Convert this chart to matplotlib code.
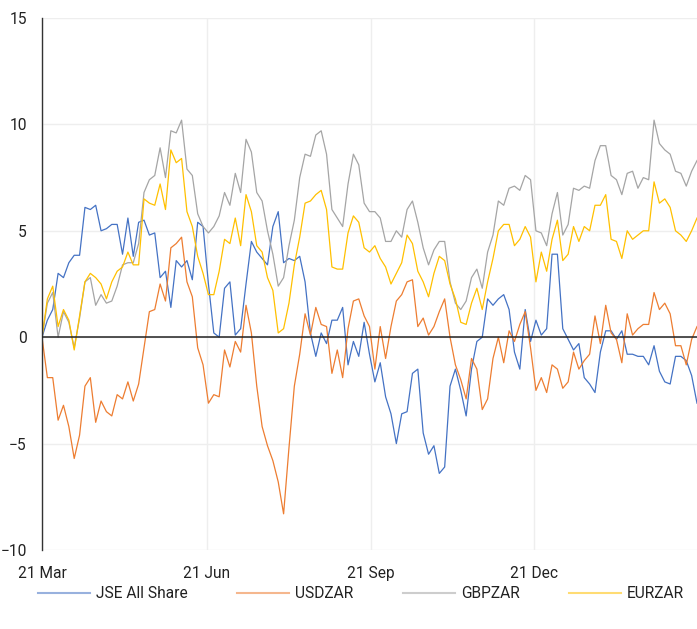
import numpy as np
import pandas as pd
import matplotlib
matplotlib.use("Agg")
import matplotlib.pyplot as plt
from matplotlib.lines import Line2D

plt.rcParams['font.family'] = ['Roboto', 'DejaVu Sans']

# one sample every 3 calendar days from 21 Mar (cumulative % change)
dates = pd.date_range("2021-03-21", periods=123, freq="3D")

jse = [0.0, 0.8, 1.3, 3.0, 2.8, 3.5, 3.85, 3.85, 6.1, 6.0,
       6.2, 5.0, 5.1, 5.3, 5.3, 3.9, 5.6, 3.8, 5.4, 5.5,
       4.8, 4.9, 2.8, 3.1, 1.4, 3.6, 3.3, 3.6, 2.7, 5.4,
       5.2, 2.5, 0.2, 0.0, 2.3, 2.6, 0.1, 0.4, 2.5, 4.5,
       4.0, 3.7, 3.4, 5.2, 5.9, 3.5, 3.7, 3.6, 3.8, 2.6,
       0.2, -0.9, 0.2, -0.3, 0.8, 0.8, 1.4, -1.3, -0.2, -0.9,
       0.7, -0.8, -2.1, -1.2, -2.8, -3.6, -5.0, -3.6, -3.5, -1.7,
       -1.5, -4.5, -5.5, -5.1, -6.4, -6.1, -2.3, -1.5, -2.5, -3.7,
       -1.5, -0.2, 0.0, 1.8, 1.5, 1.8, 2.0, 1.3, -0.7, -1.5,
       1.3, -0.2, 0.8, 0.1, 0.4, 3.9, 3.9, 0.4, -0.1, -0.6,
       -0.3, -1.9, -2.2, -2.6, -0.7, 0.3, 0.3, -0.1, 0.3, -0.8,
       -0.8, -0.9, -0.9, -1.3, -0.4, -1.6, -2.1, -2.2, -0.9, -0.9,
       -1.1, -1.8, -3.1]

usdzar = [0.0, -1.9, -1.9, -3.9, -3.2, -4.2, -5.7, -4.6, -2.3, -1.9,
          -4.0, -3.0, -3.5, -3.7, -2.7, -2.9, -2.1, -3.0, -2.2, -0.5,
          1.2, 1.3, 2.5, 1.7, 4.2, 4.4, 4.7, 2.6, 1.9, -0.5,
          -1.3, -3.1, -2.7, -2.8, -0.6, -1.4, -0.2, -0.7, 1.5, 0.2,
          -2.3, -4.2, -5.1, -5.8, -6.8, -8.3, -5.2, -2.3, -0.8, 1.1,
          0.1, 1.4, 0.6, 0.5, -1.7, -0.6, -1.9, 0.4, 1.7, 1.8,
          1.0, 0.5, -1.5, 0.5, -1.0, 0.5, 1.7, 2.0, 2.6, 2.7,
          0.5, 0.9, 0.1, 0.5, 1.2, 1.8, 0.0, -1.3, -2.0, -2.9,
          -1.0, -1.5, -3.4, -2.9, -1.0, 0.0, -1.2, 0.3, -0.2, 0.6,
          1.2, -0.5, -2.5, -1.9, -2.6, -1.3, -1.5, -2.4, -2.1, -0.7,
          -1.5, -1.1, -0.8, 1.0, -0.3, 1.5, 0.2, -0.1, -1.2, 1.1,
          0.1, 0.4, 0.6, 0.6, 2.1, 1.3, 1.6, 1.1, -0.4, -0.4,
          -1.3, -0.1, 0.5]

gbpzar = [0.0, 1.6, 2.1, 0.0, 1.2, 0.7, -0.5, 0.9, 2.6, 2.8,
          1.5, 2.0, 1.6, 1.7, 2.4, 3.4, 3.5, 3.5, 4.4, 6.8,
          7.4, 7.6, 8.9, 7.5, 9.7, 9.6, 10.2, 7.9, 7.6, 5.8,
          5.2, 4.9, 5.2, 5.7, 6.8, 6.2, 7.7, 6.8, 9.3, 8.7,
          6.8, 6.4, 5.0, 3.9, 2.4, 2.8, 4.3, 5.5, 7.5, 8.6,
          8.5, 9.5, 9.7, 8.6, 6.0, 5.6, 5.2, 7.2, 8.6, 8.1,
          6.3, 5.9, 5.9, 5.6, 4.5, 4.5, 5.0, 4.7, 6.0, 6.4,
          5.4, 4.2, 3.4, 4.1, 4.5, 4.5, 2.6, 1.6, 1.3, 1.7,
          2.8, 3.2, 2.3, 4.0, 4.8, 6.4, 6.2, 7.0, 7.1, 6.9,
          7.6, 7.4, 5.0, 4.9, 4.3, 5.8, 6.8, 4.8, 5.3, 7.0,
          6.9, 7.1, 7.0, 8.3, 9.0, 9.0, 7.6, 7.4, 6.7, 7.7,
          7.8, 7.0, 7.5, 7.4, 10.2, 9.1, 8.8, 8.6, 7.8, 7.7,
          7.1, 7.8, 8.3]

eurzar = [0.0, 1.8, 2.4, 0.5, 1.3, 0.8, -0.6, 1.0, 2.6, 3.0,
          2.8, 2.5, 1.8, 2.6, 3.1, 3.3, 4.0, 3.4, 3.4, 6.5,
          6.3, 6.2, 7.2, 6.0, 8.8, 8.2, 8.4, 5.9, 5.2, 3.8,
          3.0, 2.0, 2.0, 3.1, 4.6, 4.4, 5.6, 4.3, 6.7, 5.9,
          4.3, 4.0, 2.8, 2.2, 0.2, 0.4, 1.6, 3.4, 4.7, 6.3,
          6.4, 6.7, 6.9, 6.0, 3.3, 3.2, 3.2, 4.9, 5.7, 5.4,
          4.2, 4.0, 4.3, 3.7, 3.3, 2.5, 3.0, 3.5, 4.8, 4.4,
          3.1, 2.6, 1.9, 3.0, 3.8, 3.6, 2.5, 1.8, 0.7, 0.6,
          1.6, 2.3, 1.3, 2.6, 3.7, 5.0, 5.3, 5.3, 4.3, 4.6,
          5.2, 4.7, 2.6, 4.0, 3.1, 4.6, 5.5, 3.6, 3.9, 5.2,
          4.5, 5.2, 5.0, 6.2, 6.2, 6.7, 4.6, 4.5, 3.7, 5.0,
          4.6, 4.8, 5.0, 5.0, 7.3, 6.3, 6.5, 6.1, 5.0, 4.8,
          4.5, 5.0, 5.6]

names = ["JSE All Share", "USDZAR", "GBPZAR", "EURZAR"]
colors = ["#4472C4", "#ED7D31", "#A5A5A5", "#FFC000"]
tick_dates = ["2021-03-21", "2021-06-21", "2021-09-21", "2021-12-21"]
tick_labels = ["21 Mar", "21 Jun", "21 Sep", "21 Dec"]

fig = plt.figure(figsize=(6.97, 6.29), dpi=100)
ax = fig.add_axes([42/697, 1 - 550/629, 1 - 42/697, (550 - 18)/629])

for series, name, c in zip([jse, usdzar, gbpzar, eurzar], names, colors):
    ax.plot(dates, series, color=c, lw=0.9, label=name)

ax.axhline(0, color="#222222", lw=1.1, zorder=3)

ax.set_ylim(-10, 15)
ax.set_yticks([-10, -5, 0, 5, 10, 15])
start = pd.Timestamp("2021-03-21")
ax.set_xlim(start, start + pd.Timedelta(days=366))
ax.set_xticks(pd.to_datetime(tick_dates))
ax.set_xticklabels(tick_labels)

ax.grid(True, color="#eeeeee", lw=1.0)
ax.set_axisbelow(True)
for s in ["top", "right", "bottom"]:
    ax.spines[s].set_visible(False)
ax.spines["left"].set_color("#333333")
ax.spines["left"].set_linewidth(1.0)
ax.tick_params(length=0, labelsize=11.2, colors="#222222")
ax.tick_params(axis="y", pad=11)
ax.tick_params(axis="x", pad=11.5)

handles = [Line2D([], [], color=c, lw=1.5, alpha=0.55) for c in colors]
fig.legend(handles, names, loc="center", bbox_to_anchor=(361/697, 1 - 594/629),
           ncol=4, frameon=False, fontsize=11.2, handlelength=3.33,
           handletextpad=0.38, columnspacing=3.2, labelcolor="#222222")

fig.savefig("out.png", dpi=100)
